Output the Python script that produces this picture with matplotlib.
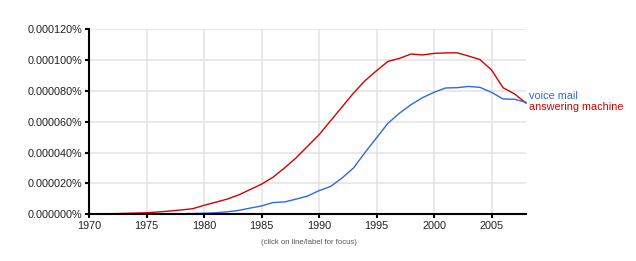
import matplotlib
matplotlib.use("Agg")
import matplotlib.pyplot as plt
from matplotlib.ticker import FuncFormatter

years = list(range(1970, 2009))
answering_machine = [0.2, 0.3, 0.4, 0.6, 0.8, 1.0, 1.5, 2.1, 2.8, 3.6,
                     5.8, 7.8, 9.8, 12.5, 16.0, 19.5, 24.0, 30.0, 36.5, 44.0,
                     51.5, 60.5, 69.5, 78.5, 86.5, 93.0, 99.0, 101.0, 103.8, 103.2,
                     104.2, 104.5, 104.6, 102.5, 100.2, 93.5, 82.0, 78.0, 72.0]
voice_mail = [0.0, 0.0, 0.05, 0.1, 0.1, 0.15, 0.2, 0.3, 0.4, 0.5,
              0.7, 1.0, 1.6, 2.5, 4.0, 5.4, 7.6, 8.0, 9.8, 11.8,
              15.3, 18.0, 23.5, 30.0, 40.0, 49.5, 59.0, 65.5, 71.0, 75.5,
              79.0, 81.8, 82.0, 82.8, 82.2, 79.0, 74.7, 74.5, 72.5]
# values in units of 1e-6 percent
y_ticks = [0, 20, 40, 60, 80, 100, 120]
x_ticks = [1970, 1975, 1980, 1985, 1990, 1995, 2000, 2005]

plt.rcParams['font.family'] = ['Liberation Sans', 'DejaVu Sans']

fig = plt.figure(figsize=(6.36, 2.61), dpi=100)
ax = fig.add_axes([89/636, 1 - 214.3/261, (526 - 89)/636, (214.3 - 29)/261])

blue = '#2f67e8'
red = '#d40000'

ax.plot(years, answering_machine, color=red, lw=1.0, zorder=3, clip_on=False)
ax.plot(years, voice_mail, color=blue, lw=1.0, zorder=3, clip_on=False)

ax.set_xlim(1970, 2008)
ax.set_ylim(0, 120)
ax.set_xticks(x_ticks)
ax.set_yticks(y_ticks)
ax.yaxis.set_major_formatter(FuncFormatter(lambda v, p: f"{v/1e6:.6f}%"))

ax.grid(True, color='#e3e3e3', lw=1.1, zorder=0)
ax.set_axisbelow(True)
for s in ['top', 'right']:
    ax.spines[s].set_visible(False)
for s in ['left', 'bottom']:
    ax.spines[s].set_linewidth(1.5)
    ax.spines[s].set_color('black')
    ax.spines[s].set_zorder(4)
ax.tick_params(axis='both', length=3, width=1.5, color='black',
               labelsize=7.8, labelcolor='#222222', pad=2)

ax.annotate('voice mail', xy=(years[-1], voice_mail[-1]), xytext=(2.2, 4.8),
            textcoords='offset points', color=blue, fontsize=7.8,
            va='center', ha='left', annotation_clip=False)
ax.annotate('answering machine', xy=(years[-1], answering_machine[-1]), xytext=(2.2, -3.0),
            textcoords='offset points', color=red, fontsize=7.8,
            va='center', ha='left', annotation_clip=False)

fig.text(309/636, 1 - 243/261, '(click on line/label for focus)', ha='center', va='center',
         fontsize=5.6, color='#555555')

fig.savefig('out.png', dpi=100)
